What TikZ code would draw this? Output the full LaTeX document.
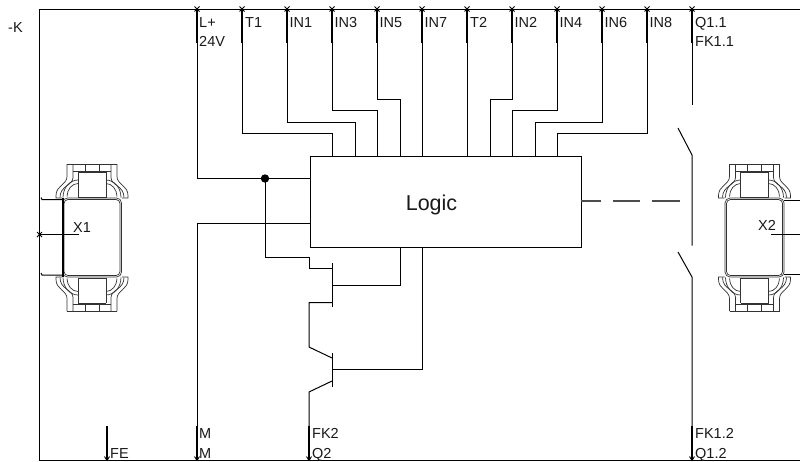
\documentclass[tikz,border=0pt]{standalone}
\usepackage{fontspec}
\setmainfont{Liberation Sans}
\usetikzlibrary{calc}
\newcommand{\lab}[4]{\node[lbl] (#1) at (#2,-#3) {#4};}
\newcommand{\term}[2]{\coordinate (t#1) at (#2,-9.5); \coordinate (th#1) at (#2,-43);
  \draw[thin line] (#2-2.5,-6.5) -- (#2+2.5,-11.5) (#2+2.5,-6.5) -- (#2-2.5,-11.5);
  \draw[thick line] (t#1) -- (th#1);}
\newcommand{\bott}[2]{\coordinate (b#1) at (#2,-459.5); \coordinate (bh#1) at (#2,-426);
  \draw[thin line] (#2-2.5,-456.5) -- (#2,-460.5) -- (#2+2.5,-456.5);
  \draw[thick line] (bh#1) -- (b#1);}
\newcommand{\conn}[1]{%
\begin{scope}[shift={(#1,-237.5)}]
 \foreach \sy in {1,-1}{
 \begin{scope}[yscale=\sy]
  \foreach \sx in {1,-1}{
  \begin{scope}[xscale=\sx]
   \draw[conn line] (25,73.5) -- (25,61) .. controls (25,53) and (36,52) .. (36,42) -- (36,39.5) -- (30,39.5);
   \draw[conn line] (19,73.5) -- (19,60) .. controls (19,52) and (32,52) .. (32,40);
   \draw[conn line] (14,57.5) .. controls (22,57.5) and (29,50) .. (29,40);
   \draw[conn line] (14,54) .. controls (20,54) and (25,48) .. (25,41);
   \draw[conn line] (25,73.5) -- (0,73.5);
   \draw[conn line] (19,66.5) -- (0,66.5);
   \draw[conn line] (7,73.5) -- (7,66.5);
   \draw[conn line] (14,65.5) -- (14,40.5) -- (0,40.5);
   \draw[conn line] (0,65.5) -- (14,65.5);
  \end{scope}}
 \end{scope}}
 \draw[conn line,rounded corners=5pt] (-29.5,-39.5) rectangle (29.5,39.5);
 \draw[conn line,rounded corners=4pt] (-28,-38) rectangle (28,38);
\end{scope}}
\tikzset{
 thin line/.style={draw=black,line width=0.9pt},
 conn line/.style={draw=black!80,line width=0.7pt},
 thick line/.style={draw=black,line width=2pt},
 wire/.style={draw=black,line width=1pt},
 lbl/.style={anchor=base west,inner sep=0pt,font=\fontsize{14.5}{14.5}\selectfont,text=black!90},
}
\begin{document}
\begin{tikzpicture}[x=1pt,y=1pt]
\useasboundingbox (0,0) rectangle (800,-461);
\fill[white] (0,0) rectangle (800,-461);
% frame
\coordinate (fa) at (800,-9.5); \coordinate (fb) at (39.5,-9.5);
\coordinate (fc) at (39.5,-460); \coordinate (fd) at (800,-460);
\draw[wire] (fa) -- (fb) -- (fc) -- (fd);
% logic
\node[draw=black,line width=1pt,minimum width=271pt,minimum height=90.5pt,inner sep=0pt,anchor=north west] (logic) at (309.5,-156) {};
\node[font=\fontsize{21.5}{21.5}\selectfont,inner sep=0pt,anchor=base,text=black!90] (logictext) at (431.5,-210) {Logic};
% terminals
\term{L}{197}\term{T}{242}\term{A}{287}\term{C}{332}\term{E}{377}\term{G}{422}
\term{U}{467}\term{B}{512}\term{D}{557}\term{F}{602}\term{H}{647}\term{Q}{692}
% entries
\foreach \n/\x in {T/332,A/355,C/377,E/400,G/422,U/467,B/490,D/512,F/535,H/557}
  \coordinate (e\n) at (\x,-156);
% routed
\draw[wire] (thT) |- (0,-133.5 -| eT) -- (eT);
\draw[wire] (thA) |- (0,-122 -| eA) -- (eA);
\draw[wire] (thC) |- (0,-110.5 -| eC) -- (eC);
\draw[wire] (thE) |- (0,-99 -| eE) -- (eE);
\draw[wire] (thG) -- (eG);
\draw[wire] (thU) -- (eU);
\draw[wire] (thB) |- (0,-99 -| eB) -- (eB);
\draw[wire] (thD) |- (0,-110.5 -| eD) -- (eD);
\draw[wire] (thF) |- (0,-122 -| eF) -- (eF);
\draw[wire] (thH) |- (0,-133.5 -| eH) -- (eH);
% supply
\coordinate (lin) at (309.5,-178.5); \coordinate (min) at (309.5,-223.5);
\coordinate (dot) at (265,-178.5);
\draw[wire] (thL) |- (lin);
\fill[black] (dot) circle (4.2pt);
% bottom terminals
\bott{M}{197}\bott{S}{309}\bott{R}{692}\bott{FE}{107}
\draw[wire] (bhM) |- (min);
% transistors
\coordinate (gl) at (309.5,-257.5);
\coordinate (ga) at (309.5,-268.5);
\coordinate (gb) at (332,-268.5);
\coordinate (bt) at (332,-263);
\coordinate (bb) at (332,-307);
\coordinate (s1) at (332,-302.5);
\coordinate (s2) at (309,-302.5);
\coordinate (s3) at (309,-347);
\coordinate (c1) at (332,-358);
\coordinate (bt2) at (332,-353);
\coordinate (bb2) at (332,-387);
\coordinate (e1) at (332,-381);
\coordinate (e2) at (309,-392);
\coordinate (g1) at (332,-285);
\coordinate (g2) at (400,-246.5);
\coordinate (b1) at (332,-369.5);
\coordinate (b2) at (422,-246.5);
\draw[wire] (dot) -- (265,-257.5) -- (gl) -- (ga) -- (gb);
\draw[wire] (bt) -- (bb);
\draw[wire] (s1) -- (s2) -- (s3) -- (c1);
\draw[wire] (bt2) -- (bb2);
\draw[wire] (e1) -- (e2) -- (bhS);
\draw[wire] (g1) -| (g2);
\draw[wire] (b1) -| (b2);
% switch
\coordinate (k1) at (692,-105); \coordinate (k2) at (692,-155);
\coordinate (k3) at (678,-128); \coordinate (k4) at (692,-245.5);
\coordinate (k5) at (678,-252); \coordinate (k6) at (692,-277);
\draw[wire] (thQ) -- (k1);
\draw[wire] (k3) -- (k2) -- (k4);
\draw[wire] (k5) -- (k6) -- (bhR);
% dashed
\coordinate (d0) at (580.5,-201);
\coordinate (d1) at (680,-201);
\draw[draw=black!70,line width=1.4pt] (d0) -- (601,-201) (613,-201) -- (640,-201) (652,-201) -- (d1);
% connectors
\conn{92}
\conn{754.5}
\draw[thin line,line width=1.6pt] (63,-198) -- (63,-277);
\coordinate (x1a) at (39.5,-234.5); \coordinate (x1b) at (79,-234.5);
\draw[thin line] (37,-232) -- (42,-237) (42,-232) -- (37,-237);
\draw[wire] (x1a) -- (x1b);
\draw[wire] (41,-197.5) -- (42,-199.5) -- (63,-199.5);
\draw[wire] (41,-273) -- (42,-275) -- (63,-275);
\coordinate (x2a) at (800,-234.5); \coordinate (x2b) at (771,-234.5);
\draw[wire] (x2a) -- (x2b);
\draw[wire] (784,-200) -- (800,-200);
\draw[wire] (784,-274) -- (800,-274);
% labels
\lab{lk}{8}{32}{-K}
\lab{l1}{199}{27}{L+}\lab{l2}{199}{46}{24V}
\lab{l3}{245}{27}{T1}\lab{l4}{289.5}{27}{IN1}\lab{l5}{334.5}{27}{IN3}\lab{l6}{379.5}{27}{IN5}
\lab{l7}{424.5}{27}{IN7}\lab{l8}{470}{27}{T2}\lab{l9}{514.5}{27}{IN2}\lab{l10}{559.5}{27}{IN4}
\lab{l11}{604.5}{27}{IN6}\lab{l12}{649.5}{27}{IN8}\lab{l13}{695}{27}{Q1.1}\lab{l14}{695}{46}{FK1.1}
\lab{x1}{73}{232}{X1}\lab{x2}{758}{230}{X2}
\lab{m1}{199}{438}{M}\lab{m2}{199}{458}{M}\lab{f1}{312}{438}{FK2}\lab{f2}{312}{458}{Q2}
\lab{fe}{110}{458}{FE}\lab{q1}{695}{438}{FK1.2}\lab{q2}{695}{458}{Q1.2}
\end{tikzpicture}
\end{document}
